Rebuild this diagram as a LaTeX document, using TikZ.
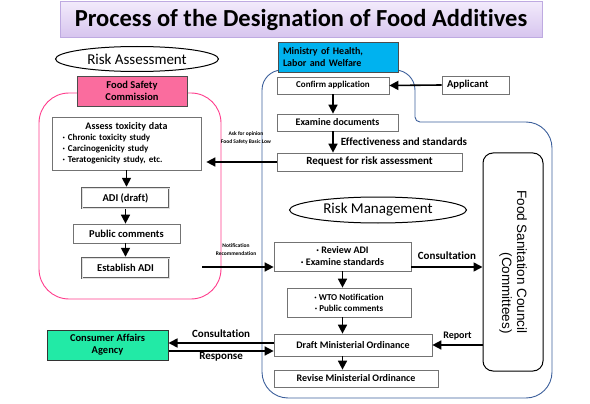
\documentclass[tikz,border=0pt]{standalone}
\usepackage{fontspec}
\setmainfont{Carlito}[Ligatures={NoCommon}]
\newfontfamily\arialfont{Liberation Sans}
\usetikzlibrary{arrows.meta,shapes.geometric}
\definecolor{cTitleTop}{RGB}{242,234,251}
\definecolor{cTitleBot}{RGB}{214,196,238}
\definecolor{cTitleLine}{RGB}{190,170,225}
\definecolor{cAssess}{RGB}{255,60,140}
\definecolor{cFSC}{RGB}{250,108,158}
\definecolor{cMHLW}{RGB}{0,178,239}
\definecolor{cManage}{RGB}{60,95,155}
\definecolor{cCAA}{RGB}{34,234,166}
\newcommand{\fsz}[2]{\fontsize{#1}{#2}\selectfont}
\tikzset{
  box/.style={draw=gray!90!black, fill=white, line width=0.7pt, inner sep=1pt, align=center, font=\bfseries\fsz{10}{12}},
  dbox/.style={box, draw=gray!75!black, line width=2.4pt, postaction={draw=gray!25, line width=0.8pt}},
  lbl/.style={font=\bfseries\fsz{11}{12}, inner sep=1pt},
  tinylbl/.style={font=\bfseries\fsz{5.5}{8.5}, align=center, inner sep=0pt},
  arr/.style={line width=1.6pt, -{Triangle[length=9pt,width=9pt]}},
  oval/.style={ellipse, draw, line width=1pt, inner sep=0pt, font=\fsz{15}{15}}
}

\begin{document}
\begin{tikzpicture}[x=1pt,y=-1pt]
\useasboundingbox (0,0) rectangle (590,404);
% the two regions
\draw[cAssess, line width=0.9pt, rounded corners=30pt] (39,93) rectangle (221,299);
\draw[cManage, line width=0.9pt, rounded corners=20pt] (262,250) -- (262,70) -- (415,70) [rounded corners=5pt] -- (415,122) [rounded corners=26pt] -- (552,122) -- (552,398) -- (262,398) -- cycle;
% title
\node[draw=cTitleLine, line width=1pt, top color=cTitleTop, bottom color=cTitleBot, minimum width=482pt, minimum height=36pt, font=\bfseries\fsz{24.5}{24.5}] (title) at (301,20) {Process of the Designation of Food Additives};
% risk assessment
\node[oval, minimum width=163pt, minimum height=25pt] (riskA) at (137,59) {Risk Assessment};
\node[box, draw=black!70, fill=cFSC, minimum width=110pt, minimum height=30pt, font=\bfseries\fsz{10.5}{12}] (fsc) at (132,91) {Food Safety\\Commission};
\node[box, minimum width=149pt, minimum height=53pt, text width=128pt, align=left, font=\bfseries\fsz{9}{11}] (assess) at (126.5,143.5) {\makebox[128pt]{\fsz{10}{11}Assess toxicity data}\\· Chronic toxicity study\\· Carcinogenicity study\\· Teratogenicity study, etc.};
\node[dbox, minimum width=87pt, minimum height=20pt, font=\bfseries\fsz{10.5}{12}] (adiDraft) at (125.5,198) {ADI (draft)};
\node[box, minimum width=107pt, minimum height=19pt, font=\bfseries\fsz{10.5}{12}] (pubCom) at (126.5,233.5) {Public comments};
\node[dbox, minimum width=87pt, minimum height=20pt, font=\bfseries\fsz{10.5}{12}] (estADI) at (125.5,268) {Establish ADI};
% risk management
\node[box, draw=black!70, fill=cMHLW, minimum width=120pt, minimum height=30pt, text width=110pt, align=left, font=\bfseries\fsz{10}{11.5}] (mhlw) at (338,57) {Ministry of Health,\\Labor and Welfare};
\node[box, minimum width=112pt, minimum height=17pt, font=\bfseries\fsz{9}{10}] (confirm) at (333,85.5) {Confirm application};
\node[box, minimum width=67pt, minimum height=18pt, text width=57pt, align=left, font=\bfseries\fsz{10.5}{12}] (applicant) at (475.5,85) {Applicant};
\node[box, minimum width=121pt, minimum height=17pt] (examine) at (337.5,122.5) {Examine documents};
\node[box, minimum width=185pt, minimum height=18pt, font=\bfseries\fsz{11}{12}] (request) at (369.5,162) {Request for risk assessment};
\node[oval, minimum width=177pt, minimum height=26pt] (riskM) at (378,210) {Risk Management};
\node[box, minimum width=137pt, minimum height=29pt] (review) at (342.5,256.5) {· Review ADI\\· Examine standards};
\node[box, minimum width=124pt, minimum height=29pt, font=\bfseries\fsz{9}{11}] (wto) at (349,302.5) {· WTO Notification\\· Public comments};
\node[box, minimum width=158pt, minimum height=22pt, font=\bfseries\fsz{10}{11}] (draft) at (353,345) {Draft Ministerial Ordinance};
\node[box, minimum width=164pt, minimum height=17pt, font=\bfseries\fsz{10}{11}] (revise) at (356,378.5) {Revise Ministerial Ordinance};
\node[draw=black, line width=1pt, rounded corners=10pt, rotate=-90, minimum width=218pt, minimum height=60pt, align=right, inner sep=1pt, font=\arialfont\fsz{13.5}{15}] (council) at (513,262) {Food Sanitation Council\\(Committees)};
\node[box, draw=black!80, line width=1pt, fill=cCAA, minimum width=121pt, minimum height=30pt, font=\bfseries\fsz{10.5}{12}] (caa) at (107.5,345) {Consumer Affairs\\Agency};
% connectors
\draw[arr] (applicant.west) -- (confirm.east);
\draw[arr] (confirm.south) -- (confirm.south |- examine.north);
\draw[arr] (examine.south -| confirm.south) -- node[lbl, right, xshift=6pt, font=\bfseries\fsz{11}{12}] (effLbl) {Effectiveness and standards} (request.north -| confirm.south);
\draw[arr, shorten >=5pt] (request.west) -- (request.west -| assess.east);
\node[tinylbl] (askLbl) at (246,138) {Ask for opinion\\Food Safety Basic Low};
\draw[arr] (assess.south) -- (assess.south |- adiDraft.north);
\draw[arr] (adiDraft.south) -- (adiDraft.south |- pubCom.north);
\draw[arr] (pubCom.south -| estADI.north) -- (estADI.north);
\coordinate (notifStart) at (202,267);
\draw[arr] (notifStart) -- (notifStart -| review.west);
\node[tinylbl] (notifLbl) at (236,249.5) {Notification\\Recommendation};
\draw[arr] (review.south) -- (review.south |- wto.north);
\draw[arr] (wto.south -| review.south) -- (review.south |- draft.north);
\draw[arr] (draft.south -| review.south) -- (review.south |- revise.north);
\draw[arr] ([yshift=-10.5pt]review.east) -- node[lbl, above, yshift=6pt] (consLbl) {Consultation} ([yshift=-10.5pt]review.east -| council.south);
\draw[arr] (draft.east -| council.south) -- node[lbl, above, yshift=3pt, font=\bfseries\fsz{10}{12}] (repLbl) {Report} (draft.east);
\draw[arr] ([yshift=2pt]draft.west) -- node[lbl, above, yshift=4pt] (consLbl2) {Consultation} ([yshift=2pt]draft.west -| caa.east);
\draw[arr] ([yshift=-6pt]caa.east) -- node[lbl, below] (respLbl) {Response} ([yshift=-6pt]caa.east -| draft.west);
\end{tikzpicture}
\end{document}
